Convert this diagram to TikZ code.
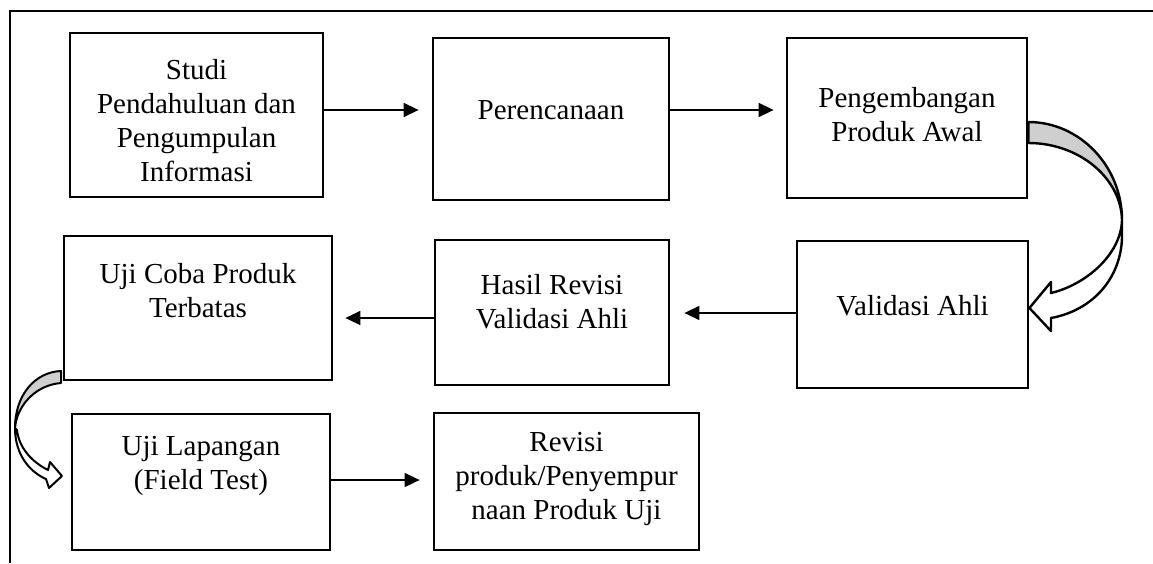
\documentclass[tikz,border=0pt]{standalone}
\usepackage{fontspec}
\setmainfont{Liberation Serif}
\usetikzlibrary{arrows.meta}
\definecolor{bandgray}{HTML}{CFCFCF}
\tikzset{
  stepbox/.style={draw=black, line width=2.8pt, inner sep=0pt},
  txt/.style={font=\fontsize{29}{34}\selectfont, align=center, inner sep=0pt},
  arr/.style={line width=1.6pt, -{Triangle[length=15pt,width=14pt]}},
  band/.style={draw=black, line width=2.4pt, line join=round},
}
\begin{document}
\begin{tikzpicture}[x=1pt,y=-1pt]
\useasboundingbox (0,0) rectangle (1153,563);
% outer frame (only top and left visible)
\draw[line width=2.8pt] (10,563) -- (10,11) -- (1153,11);

% boxes
\node[stepbox, minimum width=253pt, minimum height=164pt] (b1) at (196.5,115) {};
\node[stepbox, minimum width=236pt, minimum height=162pt] (b2) at (551,119) {};
\node[stepbox, minimum width=240pt, minimum height=160pt] (b3) at (907,118) {};
\node[stepbox, minimum width=231pt, minimum height=147pt] (b4) at (912.5,314.5) {};
\node[stepbox, minimum width=234pt, minimum height=145pt] (b5) at (552,312.5) {};
\node[stepbox, minimum width=268pt, minimum height=144pt] (b6) at (198,308) {};
\node[stepbox, minimum width=258pt, minimum height=136pt] (b7) at (201,482) {};
\node[stepbox, minimum width=265pt, minimum height=137pt] (b8) at (566.5,481.5) {};

% texts
\node[txt] (t1) at (196.5,121) {Studi\\Pendahuluan dan\\Pengumpulan\\Informasi};
\node[txt] (t2) at (551,110) {Perencanaan};
\node[txt] (t3) at (907,115) {Pengembangan\\Produk Awal};
\node[txt] (t4) at (912.5,306) {Validasi Ahli};
\node[txt] (t5) at (552,302) {Hasil Revisi\\Validasi Ahli};
\node[txt] (t6) at (198,291) {Uji Coba Produk\\Terbatas};
\node[txt] (t7) at (201,466) {Uji Lapangan\\(Field Test)};
\node[txt] (t8) at (566.5,479) {Revisi\\produk/Penyempur\\naan Produk Uji};

% straight arrows
\draw[arr, shorten >=13pt] (b1.east |- 0,110) -- (b2.west |- 0,110);
\draw[arr, shorten >=12pt] (b2.east |- 0,110) -- (b3.west |- 0,110);
\draw[arr, shorten >=14pt] (b4.west |- 0,313) -- (b5.east |- 0,313);
\draw[arr, shorten >=12pt] (b5.west |- 0,318) -- (b6.east |- 0,318);
\draw[arr, shorten >=13pt] (b7.east |- 0,480) -- (b8.west |- 0,480);

% big curved arrow (b3 -> b4)
\draw[band, fill=white] (1122,220) .. controls (1121,255) and (1085,285) .. (1051,293)
  -- (1051,282) -- (b4.east |- 0,308) -- (1051,331) -- (1051,318)
  .. controls (1095,310) and (1123,275) .. (1122,233) -- cycle;
\draw[band, fill=bandgray] (b3.east |- 0,122) .. controls (1079.5,122) and (1122,166) .. (1122,220)
  .. controls (1121,178) and (1079,143) .. (b3.east |- 0,143) -- cycle;

% small curved arrow (b6 -> b7)
\draw[band, line width=2pt, fill=white] (15,428) .. controls (15,455) and (30,472) .. (46,479)
  -- (49,488) -- (62,476) -- (50,462) -- (48,470)
  .. controls (32,462) and (19,448) .. (17,430) -- cycle;
\draw[band, line width=2pt, fill=bandgray] (61,371) .. controls (35,372) and (15,395) .. (15,428)
  .. controls (17,405) and (36,385) .. (61,383) -- cycle;
\end{tikzpicture}
\end{document}
